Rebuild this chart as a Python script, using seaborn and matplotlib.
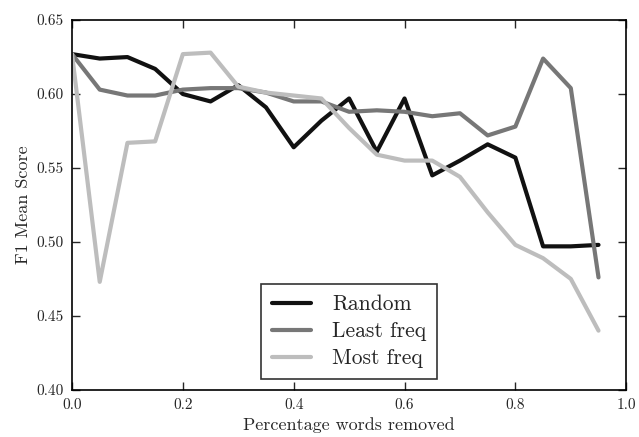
import numpy as np
import pandas as pd
import matplotlib
matplotlib.use("Agg")
import matplotlib.pyplot as plt
import seaborn as sns

x_vals = [0.0, 0.05, 0.10, 0.15, 0.20, 0.25, 0.30, 0.35, 0.40, 0.45,
          0.50, 0.55, 0.60, 0.65, 0.70, 0.75, 0.80, 0.85, 0.90, 0.95]
random_vals = [0.627, 0.624, 0.625, 0.617, 0.600, 0.595, 0.606, 0.591, 0.564, 0.582,
               0.597, 0.561, 0.597, 0.545, 0.555, 0.566, 0.557, 0.497, 0.497, 0.498]
least_vals = [0.627, 0.603, 0.599, 0.599, 0.603, 0.604, 0.604, 0.601, 0.595, 0.595,
              0.588, 0.589, 0.588, 0.585, 0.587, 0.572, 0.578, 0.624, 0.604, 0.476]
most_vals = [0.627, 0.473, 0.567, 0.568, 0.627, 0.628, 0.605, 0.601, 0.599, 0.597,
             0.577, 0.559, 0.555, 0.555, 0.544, 0.520, 0.498, 0.489, 0.475, 0.440]
series_names = ["Random", "Least freq", "Most freq"]
colors = ["#111111", "#777777", "#bdbdbd"]

df = pd.concat([
    pd.DataFrame({"x": x_vals, "y": vals, "series": name})
    for name, vals in zip(series_names, [random_vals, least_vals, most_vals])
])

sns.set_style("ticks")
plt.rcParams["font.family"] = "serif"
plt.rcParams["font.serif"] = ["cmr10", "DejaVu Serif"]
plt.rcParams["axes.formatter.use_mathtext"] = True
plt.rcParams["mathtext.fontset"] = "cm"

fig = plt.figure(figsize=(6.39, 4.37), dpi=100)
ax = fig.add_axes([0.1127, 0.108, 0.8673, 0.846])
sns.lineplot(data=df, x="x", y="y", hue="series", palette=colors,
             hue_order=series_names, linewidth=3, ax=ax)

ax.set_xlim(0, 1.0)
ax.set_ylim(0.40, 0.65)
ax.set_xticks([0.0, 0.2, 0.4, 0.6, 0.8, 1.0])
ax.set_xticklabels(["0.0", "0.2", "0.4", "0.6", "0.8", "1.0"])
ax.set_yticks([0.40, 0.45, 0.50, 0.55, 0.60, 0.65])
ax.set_yticklabels(["0.40", "0.45", "0.50", "0.55", "0.60", "0.65"])
ax.tick_params(direction="in", top=True, right=True, length=6, width=1, labelsize=11, pad=6)
for s in ax.spines.values():
    s.set_linewidth(1.2)
    s.set_color("black")
ax.set_xlabel("Percentage words removed", fontsize=13)
ax.set_ylabel("F1 Mean Score", fontsize=13)

leg = ax.legend(loc="lower center", fontsize=15.5, handlelength=1.8, frameon=True,
                fancybox=False, borderpad=0.5, labelspacing=0.35, handletextpad=1.0,
                borderaxespad=0.5)
leg.get_frame().set_edgecolor("black")
leg.get_frame().set_linewidth(1.2)
for line in leg.get_lines():
    line.set_linewidth(3)

fig.savefig("out.png", dpi=100)
